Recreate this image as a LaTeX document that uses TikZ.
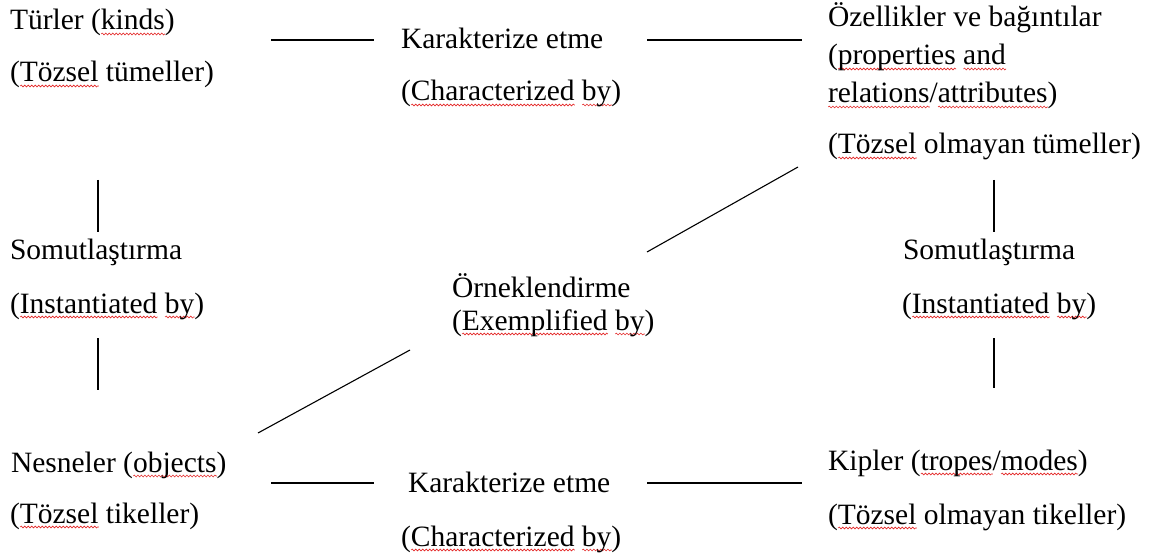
\documentclass[tikz,border=0pt]{standalone}
\usepackage{fontspec}
\setmainfont{Liberation Serif}
\usetikzlibrary{decorations.pathmorphing}
\definecolor{wavered}{RGB}{228,40,40}
\newsavebox\sqbox
\newcommand\sq[1]{\sbox\sqbox{#1}\leavevmode\rlap{\raisebox{-4pt}[0pt][0pt]{\tikz[baseline=0pt,x=1pt,y=1pt]\draw[wavered,line width=0.6pt,decorate,decoration={snake,segment length=3.5pt,amplitude=0.9pt}] (0,0) -- ({\the\wd\sqbox},0);}}\usebox\sqbox}
\begin{document}
\begin{tikzpicture}[x=1pt,y=-1pt,
  lbl/.style={anchor=base west,inner sep=0pt,outer sep=0pt,font=\fontsize{29.5}{34}\selectfont},
  conn/.style={line width=1.1pt,black}]
\useasboundingbox[fill=white] (0,0) rectangle (1160,559);
% top-left
\node[lbl] (kinds1) at (10,30) {Türler (\sq{kinds})};
\node[lbl] (kinds2) at (10,82) {(\sq{Tözsel} tümeller)};
% top-middle
\node[lbl] (char1) at (401,49) {Karakterize etme};
\node[lbl] (char2) at (401,101) {(\sq{Characterized} \sq{by})};
% top-right
\node[lbl] (prop1) at (828,27) {Özellikler ve bağıntılar};
\node[lbl] (prop2) at (828,65) {(\sq{properties} \sq{and}};
\node[lbl] (prop3) at (828,103) {\sq{relations}/\sq{attributes})};
\node[lbl] (prop4) at (828,154) {(\sq{Tözsel} olmayan tümeller)};
% middle-left
\node[lbl] (inst1) at (10,259) {Somutlaştırma};
\node[lbl] (inst2) at (10,313) {(\sq{Instantiated} \sq{by})};
% centre
\node[lbl] (ex1) at (452,297) {Örneklendirme};
\node[lbl] (ex2) at (452,330) {(\sq{Exemplified} \sq{by})};
% middle-right
\node[lbl] (rinst1) at (903,259) {Somutlaştırma};
\node[lbl] (rinst2) at (902,313) {(\sq{Instantiated} \sq{by})};
% bottom-left
\node[lbl] (obj1) at (11,472) {Nesneler (\sq{objects})};
\node[lbl] (obj2) at (10,523) {(\sq{Tözsel} tikeller)};
% bottom-middle
\node[lbl] (bchar1) at (408,492) {Karakterize etme};
\node[lbl] (bchar2) at (401,546) {(\sq{Characterized} \sq{by})};
% bottom-right
\node[lbl] (trop1) at (828,470) {Kipler (\sq{tropes}/\sq{modes})};
\node[lbl] (trop2) at (828,524) {(\sq{Tözsel} olmayan tikeller)};
% connector end points
\coordinate (tl1) at (271,40);  \coordinate (tl2) at (374,40);
\coordinate (tr1) at (647,40);  \coordinate (tr2) at (802,40);
\coordinate (bl1) at (271,483); \coordinate (bl2) at (374,483);
\coordinate (br1) at (647,483); \coordinate (br2) at (802,483);
\coordinate (lv1a) at (98,180); \coordinate (lv1b) at (98,232);
\coordinate (lv2a) at (98,338); \coordinate (lv2b) at (98,390);
\coordinate (rv1a) at (994,180); \coordinate (rv1b) at (994,232);
\coordinate (rv2a) at (994,338); \coordinate (rv2b) at (994,388);
\coordinate (du1) at (647,252); \coordinate (du2) at (798,167);
\coordinate (dl1) at (258,433); \coordinate (dl2) at (410,350);
\draw[conn] (tl1) -- (tl2);
\draw[conn] (tr1) -- (tr2);
\draw[conn] (bl1) -- (bl2);
\draw[conn] (br1) -- (br2);
\draw[conn] (lv1a) -- (lv1b);
\draw[conn] (lv2a) -- (lv2b);
\draw[conn] (rv1a) -- (rv1b);
\draw[conn] (rv2a) -- (rv2b);
\draw[conn] (du1) -- (du2);
\draw[conn] (dl1) -- (dl2);
\end{tikzpicture}
\end{document}
